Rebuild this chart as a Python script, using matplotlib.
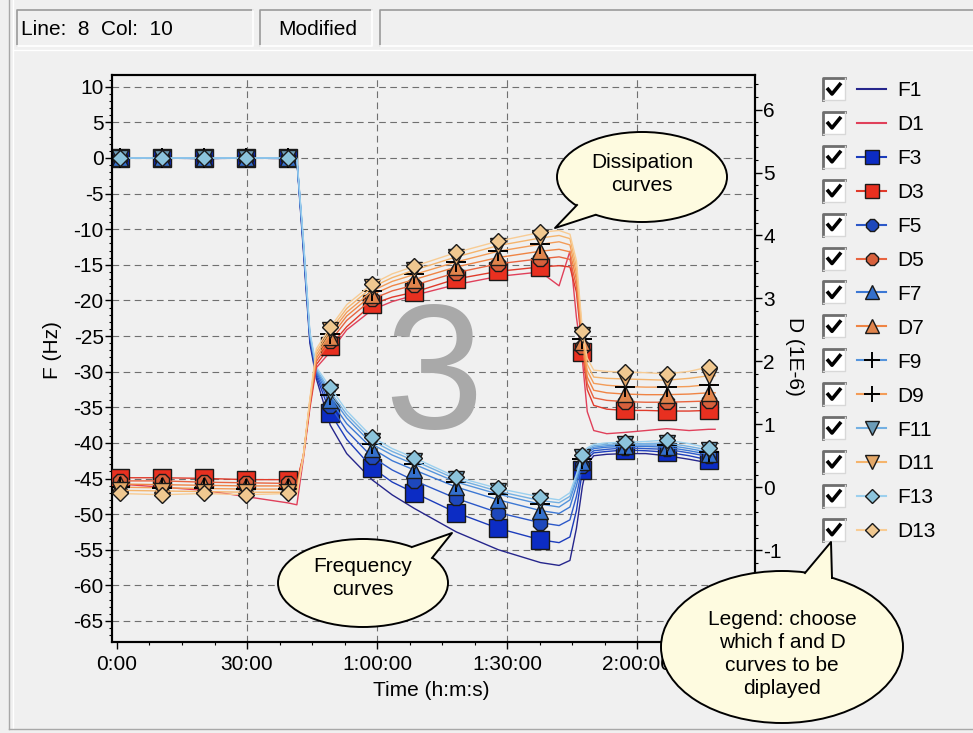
import matplotlib
matplotlib.use("Agg")
import matplotlib.pyplot as plt
from matplotlib.patches import Ellipse, Polygon, Rectangle
from matplotlib.ticker import AutoMinorLocator

plt.rcParams['font.family'] = ['Liberation Sans', 'DejaVu Sans']
plt.rcParams['font.size'] = 15
plt.rcParams['axes.unicode_minus'] = False

W, H = 973, 733
BG = "#f0f0f0"

# ---- data (time in minutes) ----
time_min = [0, 0.7, 10.4, 20.1, 29.8, 39.5, 41.5, 43, 44.5, 46, 49.2, 53, 58.9, 63.5,
            68.6, 78.3, 88.0, 97.7, 102, 104.5, 106, 107.4, 108.5, 110, 113, 117.1,
            122, 126.8, 132, 136.5, 138]
# points of time_min that carry a symbol
marker_idx = [1, 2, 3, 4, 5, 10, 12, 14, 15, 16, 17, 21, 25, 27, 29]

# frequency shifts (Hz)
f1 = [0.1, 0, 0, -0.1, 0, -0.1, -0.3, -13, -26, -31, -37.5, -41.5, -45.2, -47.3, -49.2,
      -52.5, -55.0, -56.8, -57.2, -56.5, -52.0, -46.0, -43.0, -41.8, -41.6, -41.5, -41.5,
      -41.8, -42.3, -42.8, -42.9]
f3 = [0, 0, 0, 0, 0, 0, -0.2, -12.5, -25.5, -30.6, -35.8, -39.5, -43.5, -45.5, -47.0,
      -49.8, -52.0, -53.6, -54.0, -53.2, -49.5, -43.8, -42.3, -41.4, -41.2, -41.0, -41.1,
      -41.3, -41.8, -42.4, -42.5]
f5 = [0, 0, 0, 0, 0, 0, -0.2, -12.2, -25.2, -30.3, -34.8, -38.3, -42.0, -43.8, -45.3,
      -47.8, -49.8, -51.2, -51.6, -50.8, -47.5, -43.2, -41.8, -41.1, -40.9, -40.7, -40.8,
      -40.9, -41.4, -41.9, -42.0]
f7 = [0, 0, 0, 0, 0, 0, -0.1, -12.0, -25.0, -30.0, -34.0, -37.3, -40.8, -42.5, -43.8,
      -46.2, -48.0, -49.5, -49.9, -49.0, -46.0, -42.7, -41.4, -40.8, -40.6, -40.5, -40.5,
      -40.6, -41.1, -41.6, -41.7]
f9 = [0, 0, 0, 0, 0, 0, -0.1, -11.8, -24.8, -29.8, -33.3, -36.5, -40.2, -41.7, -43.0,
      -45.5, -47.2, -48.6, -49.0, -48.0, -45.2, -42.3, -41.1, -40.6, -40.4, -40.3, -40.3,
      -40.3, -40.8, -41.3, -41.4]
f11 = [0, 0, 0, 0, 0, 0, -0.1, -11.6, -24.6, -29.6, -32.8, -36.0, -39.7, -41.2, -42.5,
       -45.1, -46.8, -48.1, -48.4, -47.5, -44.8, -42.0, -40.9, -40.4, -40.2, -40.1, -40.1,
       -40.0, -40.5, -41.0, -41.1]
f13 = [0, 0, 0, 0, 0, 0, 0, -11.4, -24.4, -29.4, -32.2, -35.5, -39.2, -40.8, -42.1,
       -44.8, -46.4, -47.6, -48.0, -47.0, -44.4, -41.7, -40.7, -40.2, -40.0, -39.9, -39.8,
       -39.6, -40.1, -40.7, -40.8]

# dissipation shifts (1E-6)
d1 = [0.05, 0.05, 0.0, -0.05, -0.15, -0.25, -0.28, 0.45, 1.25, 1.9, 2.15, 2.5, 2.82, 2.95,
      3.05, 3.22, 3.35, 3.42, 3.2, 3.75, 2.7, 2.0, 1.2, 0.9, 0.85, 0.87, 0.9, 0.93, 0.9,
      0.92, 0.92]
d3 = [0.15, 0.15, 0.15, 0.14, 0.12, 0.12, 0.1, 0.5, 1.3, 1.95, 2.24, 2.55, 2.91, 3.02,
      3.1, 3.31, 3.43, 3.50, 3.52, 3.5, 3.1, 2.15, 1.55, 1.3, 1.24, 1.22, 1.22, 1.21, 1.21,
      1.22, 1.22]
d5 = [0.1, 0.1, 0.1, 0.08, 0.07, 0.06, 0.05, 0.5, 1.32, 2.0, 2.32, 2.65, 2.99, 3.12, 3.21,
      3.41, 3.55, 3.63, 3.66, 3.62, 3.2, 2.22, 1.65, 1.42, 1.38, 1.36, 1.35, 1.35, 1.36,
      1.37, 1.37]
d7 = [0.05, 0.05, 0.04, 0.03, 0.02, 0.02, 0.0, 0.5, 1.34, 2.05, 2.38, 2.72, 3.06, 3.2, 3.3,
      3.5, 3.65, 3.75, 3.78, 3.74, 3.3, 2.3, 1.75, 1.54, 1.5, 1.48, 1.47, 1.47, 1.48, 1.5,
      1.5]
d9 = [0.0, 0.0, -0.01, -0.02, -0.03, -0.03, -0.04, 0.5, 1.36, 2.1, 2.44, 2.78, 3.12, 3.27,
      3.38, 3.58, 3.75, 3.86, 3.9, 3.85, 3.4, 2.36, 1.85, 1.65, 1.62, 1.6, 1.59, 1.59, 1.6,
      1.63, 1.63]
d11 = [-0.05, -0.05, -0.06, -0.07, -0.08, -0.08, -0.08, 0.5, 1.38, 2.15, 2.49, 2.84, 3.18,
       3.33, 3.45, 3.66, 3.84, 3.96, 4.0, 3.95, 3.5, 2.42, 1.95, 1.75, 1.73, 1.72, 1.71,
       1.7, 1.73, 1.77, 1.77]
d13 = [-0.1, -0.1, -0.12, -0.1, -0.12, -0.1, -0.12, 0.5, 1.4, 2.2, 2.54, 2.9, 3.23, 3.39,
       3.51, 3.73, 3.91, 4.05, 4.08, 4.02, 3.6, 2.48, 2.05, 1.86, 1.84, 1.83, 1.82, 1.80,
       1.84, 1.91, 1.91]

series_names = ["F1", "D1", "F3", "D3", "F5", "D5", "F7", "D7",
                "F9", "D9", "F11", "D11", "F13", "D13"]
series_values = {"F1": f1, "D1": d1, "F3": f3, "D3": d3, "F5": f5, "D5": d5,
                 "F7": f7, "D7": d7, "F9": f9, "D9": d9, "F11": f11, "D11": d11,
                 "F13": f13, "D13": d13}

x_ticks = [0, 30, 60, 90, 120]
x_tick_labels = ["0:00", "30:00", "1:00:00", "1:30:00", "2:00:00"]
f_ticks = list(range(-65, 11, 5))
d_ticks = list(range(-1, 7))

# ---- styles ----
STYLE = {
    "F1": dict(color="#26268c", marker=None),
    "D1": dict(color="#e0405a", marker=None),
    "F3": dict(color="#1c3cbc", marker="s", mfc="#0c2cc4"),
    "D3": dict(color="#e03a2a", marker="s", mfc="#e83020"),
    "F5": dict(color="#2c58c8", marker="8", mfc="#1e48bc"),
    "D5": dict(color="#e86440", marker="8", mfc="#d8603c"),
    "F7": dict(color="#3c78d4", marker="^", mfc="#3470cc"),
    "D7": dict(color="#ef8444", marker="^", mfc="#e0844c"),
    "F9": dict(color="#5594dc", marker="+", mfc="black"),
    "D9": dict(color="#f39c58", marker="+", mfc="black"),
    "F11": dict(color="#74b0e2", marker="v", mfc="#6c9cb8"),
    "D11": dict(color="#f5b46c", marker="v", mfc="#e4a868"),
    "F13": dict(color="#9cd0ee", marker="D", mfc="#8cc4dc"),
    "D13": dict(color="#f8cc94", marker="D", mfc="#f0c890"),
}
MS = {"s": 12.5, "8": 10.5, "^": 11.5, "+": 14, "v": 11.5, "D": 8}


def marker_kw(st, scale=1.0):
    m = st["marker"]
    if m is None:
        return {}
    if m == "+":
        return dict(marker=m, ms=MS[m] * scale, mec="black", mew=1.4)
    return dict(marker=m, ms=MS[m] * scale, mfc=st["mfc"], mec="#1a1a1a", mew=1.0)


def bubble(ov, center, w, h, tail, text):
    ov.add_patch(Ellipse(center, w, h, facecolor="#fefbe0", edgecolor="black",
                         lw=1.4, zorder=5))
    b1, tip, b2, inner = tail
    ov.add_patch(Polygon([b1, tip, b2, inner], closed=True, facecolor="#fefbe0",
                         edgecolor="none", zorder=6))
    ov.plot([b1[0], tip[0], b2[0]], [b1[1], tip[1], b2[1]], color="black", lw=1.4,
            zorder=7)
    ov.text(center[0], text[1], text[0], ha="center", va="center", fontsize=15,
            linespacing=1.25, zorder=8)


def draw_chart(fig):
    ax = fig.add_axes([112 / W, 1 - 642 / H, (755 - 112) / W, (642 - 75) / H])
    ax.set_facecolor(BG)
    ax.set_xlim(-1.15, 147.2)
    ax.set_ylim(-67.95, 11.65)
    ax2 = ax.twinx()
    ax2.set_ylim(-2.46, 6.55)

    for v in x_ticks[1:]:
        ax.axvline(v, color="#707070", lw=0.8, ls=(0, (6, 4)), zorder=1)
    for h in f_ticks:
        ax.axhline(h, color="#707070", lw=0.8, ls=(0, (6, 4)), zorder=1)

    ax.text(0.5, 0.378, "3", transform=ax.transAxes, ha="center", va="baseline",
            fontsize=128, color="#a9a9a9", zorder=1.5)

    for name in series_names:
        st = STYLE[name]
        target = ax if name.startswith("F") else ax2
        target.plot(time_min, series_values[name], color=st["color"], lw=1.0,
                    markevery=marker_idx, zorder=3, **marker_kw(st))

    ax.set_xticks(x_ticks)
    ax.set_xticklabels(x_tick_labels)
    ax.set_yticks(f_ticks)
    ax2.set_yticks(d_ticks)
    ax.xaxis.set_minor_locator(AutoMinorLocator(4))
    ax.yaxis.set_minor_locator(AutoMinorLocator(5))
    ax2.yaxis.set_minor_locator(AutoMinorLocator(5))
    for a in (ax, ax2):
        a.tick_params(which="major", direction="out", length=5, width=1,
                      labelsize=15, pad=1, colors="black")
        a.tick_params(which="minor", direction="out", length=2.5, width=0.8)
        for s in a.spines.values():
            s.set_linewidth(1.5)
            s.set_color("black")
    ax.tick_params(axis="x", which="major", pad=4)

    ax.set_xlabel("Time (h:m:s)", fontsize=15)
    ax.xaxis.set_label_coords(0.496, -0.086)
    ax.xaxis.label.set_verticalalignment("center")
    ax.set_ylabel("F (Hz)", fontsize=15)
    ax.yaxis.set_label_coords(-0.092, 0.515)
    ax.yaxis.label.set_verticalalignment("center")
    ax2.set_ylabel("D (1E-6)", fontsize=15, rotation=270)
    ax2.yaxis.set_label_coords(1.062, 0.503)
    ax2.yaxis.label.set_verticalalignment("center")
    return ax, ax2


def draw_overlay(fig):
    ov = fig.add_axes([0, 0, 1, 1], zorder=10)
    ov.set_xlim(0, W)
    ov.set_ylim(H, 0)
    ov.axis("off")
    ov.patch.set_alpha(0)

    # status bar
    for x0, x1 in [(17, 253), (260, 372), (380, 975)]:
        ov.plot([x0, x0, x1], [46, 10, 10], color="#9a9a9a", lw=1.2)
        ov.plot([x0, x1, x1], [46, 46, 10], color="#ffffff", lw=1.2)
    ov.text(21, 35, "Line:  8  Col:  10", ha="left", va="baseline", fontsize=15)
    ov.text(278, 35, "Modified", ha="left", va="baseline", fontsize=15)
    ov.plot([9, 9], [0, 729], color="#a8a8a8", lw=1.0)
    ov.plot([13, 13], [0, 729], color="#ffffff", lw=1.0)
    ov.plot([9, 973], [729, 729], color="#a8a8a8", lw=1.0)
    ov.plot([13, 973], [50, 50], color="#ffffff", lw=1.0)

    # check-box legend
    for i, name in enumerate(series_names):
        y = 89 + 33.9 * i
        ov.add_patch(Rectangle((823, y - 11), 22, 22, facecolor="white",
                               edgecolor="none"))
        ov.plot([823, 823, 845], [y + 11, y - 11, y - 11], color="#6e6e6e", lw=2)
        ov.plot([823, 845, 845], [y + 11, y + 11, y - 11], color="#d8d8d8", lw=1)
        ov.plot([827, 832, 841], [y - 1, y + 5, y - 6], color="black", lw=2.6,
                solid_capstyle="butt")
        st = STYLE[name]
        ov.plot([857, 886], [y, y], color=st["color"], lw=1.5)
        if st["marker"]:
            ov.plot([871.5], [y], color=st["color"], **marker_kw(st, 0.85))
        ov.text(897, y + 7.5, name, ha="left", va="baseline", fontsize=15)

    # call-out bubbles
    bubble(ov, (642, 177), 170, 90,
           [(577, 205), (555, 228), (595, 215), (605, 195)],
           ("Dissipation\ncurves", 174))
    bubble(ov, (363, 583), 170, 88,
           [(412, 547), (452, 533), (432, 558), (410, 570)],
           ("Frequency\ncurves", 578))
    bubble(ov, (782, 647), 242, 152,
           [(805, 573), (831, 542), (832, 578), (815, 595)],
           ("Legend: choose\nwhich f and D\ncurves to be\ndiplayed", 654))
    return ov


def main():
    fig = plt.figure(figsize=(W / 100, H / 100), dpi=100, facecolor=BG)
    draw_chart(fig)
    draw_overlay(fig)
    fig.savefig("out.png", dpi=100, facecolor=BG)


if __name__ == "__main__":
    main()
